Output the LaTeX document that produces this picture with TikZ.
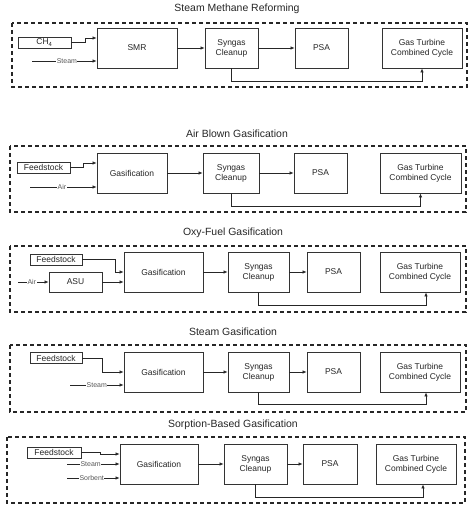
\documentclass[tikz,border=0pt]{standalone}
\usepackage{fontspec}
\setmainfont{Liberation Sans}
\usetikzlibrary{arrows.meta}
\tikzset{
  box/.style={draw=black!80, line width=0.8bp, fill=white, inner sep=1bp, align=center, font=\fontsize{8.5}{10}\selectfont, text=black!85},
  frame/.style={draw=black!85, line width=1.6bp, dash pattern=on 4bp off 3bp},
  arr/.style={draw=black!85, line width=0.7bp, -{Latex[length=4bp,width=3.5bp]}},
  lbl/.style={fill=white, inner sep=0.5bp, font=\fontsize{7}{8}\selectfont, text=black!65},
  ttl/.style={font=\fontsize{10.5}{12}\selectfont, text=black!85},
}
\begin{document}
\begin{tikzpicture}[x=1bp,y=-1bp]
\useasboundingbox (0,0) rectangle (474,511);
% ---------- Panel 1 ----------
\node[ttl] (t1) at (237,9) {Steam Methane Reforming};
\draw[frame] (12,23) rectangle (467,87);
\node[box, minimum width=53bp, minimum height=11bp] (ch4) at (44.5,42.5) {CH\textsubscript{4}};
\node[box, minimum width=80bp, minimum height=40bp] (smr) at (137,48) {SMR};
\node[box, minimum width=53bp, minimum height=40bp] (sc1) at (231.5,48) {Syngas\\Cleanup};
\node[box, minimum width=53bp, minimum height=40bp] (psa1) at (321.5,48) {PSA};
\node[box, minimum width=80bp, minimum height=40bp] (gt1) at (422,48) {Gas Turbine\\Combined Cycle};
\coordinate (st1) at (32,61);
\draw[arr] (ch4.east) -- ++(14,0) |- ([yshift=10bp]smr.west);
\draw[arr] (st1) -- (st1 -| smr.west) node[lbl, pos=0.54] {Steam};
\draw[arr] (smr.east) -- (sc1.west);
\draw[arr] (sc1.east) -- (psa1.west);
\draw[arr] (sc1.south) -- ++(0,13) -| (gt1.south);
% ---------- Panel 2 ----------
\node[ttl] (t2) at (237,134) {Air Blown Gasification};
\draw[frame] (10,146) rectangle (466,212);
\node[box, minimum width=53bp, minimum height=11bp] (fs2) at (43.5,167.5) {Feedstock};
\node[box, minimum width=70bp, minimum height=40bp] (ga2) at (132,173) {Gasification};
\node[box, minimum width=56bp, minimum height=40bp] (sc2) at (231,173) {Syngas\\Cleanup};
\node[box, minimum width=53bp, minimum height=40bp] (psa2) at (320.5,173) {PSA};
\node[box, minimum width=81bp, minimum height=40bp] (gt2) at (420.5,173) {Gas Turbine\\Combined Cycle};
\coordinate (air2) at (30,187);
\draw[arr] (fs2.east) -- ++(13,0) |- ([yshift=10bp]ga2.west);
\draw[arr] (air2) -- (air2 -| ga2.west) node[lbl, pos=0.48] {Air};
\draw[arr] (ga2.east) -- (sc2.west);
\draw[arr] (sc2.east) -- (psa2.west);
\draw[arr] (sc2.south) -- ++(0,13) -| (gt2.south);
% ---------- Panel 3 ----------
\node[ttl] (t3) at (233,233) {Oxy-Fuel Gasification};
\draw[frame] (10,246) rectangle (466,312);
\node[box, minimum width=52bp, minimum height=11bp] (fs3) at (56,259.5) {Feedstock};
\node[box, minimum width=53bp, minimum height=20bp] (asu) at (75.5,282) {ASU};
\node[box, minimum width=79bp, minimum height=40bp] (ga3) at (163.5,272) {Gasification};
\node[box, minimum width=61bp, minimum height=40bp] (sc3) at (258.5,272) {Syngas\\Cleanup};
\node[box, minimum width=53bp, minimum height=40bp] (psa3) at (333.5,272) {PSA};
\node[box, minimum width=80bp, minimum height=40bp] (gt3) at (420,272) {Gas Turbine\\Combined Cycle};
\coordinate (air3) at (18,282);
\draw[arr] (fs3.east) -- ++(33,0) |- (ga3.west);
\draw[arr] (asu.east) -- (asu.east -| ga3.west);
\draw[arr] (air3) -- (asu.west) node[lbl, pos=0.45] {Air};
\draw[arr] (ga3.east) -- (sc3.west);
\draw[arr] (sc3.east) -- (psa3.west);
\draw[arr] (sc3.south) -- ++(0,13) -| ([xshift=6bp]gt3.south);
% ---------- Panel 4 ----------
\node[ttl] (t4) at (233,332) {Steam Gasification};
\draw[frame] (10,345) rectangle (466,412);
\node[box, minimum width=52bp, minimum height=11bp] (fs4) at (56,358) {Feedstock};
\node[box, minimum width=79bp, minimum height=40bp] (ga4) at (163.5,372) {Gasification};
\node[box, minimum width=61bp, minimum height=40bp] (sc4) at (258.5,372) {Syngas\\Cleanup};
\node[box, minimum width=53bp, minimum height=40bp] (psa4) at (333.5,372) {PSA};
\node[box, minimum width=80bp, minimum height=40bp] (gt4) at (420,372) {Gas Turbine\\Combined Cycle};
\coordinate (st4) at (70,385);
\draw[arr] (fs4.east) -- ++(20,0) |- (ga4.west);
\draw[arr] (st4) -- (st4 -| ga4.west) node[lbl, pos=0.5] {Steam};
\draw[arr] (ga4.east) -- (sc4.west);
\draw[arr] (sc4.south) -- ++(0,12) -| ([xshift=6bp]gt4.south);
\draw[arr] (sc4.east) -- (psa4.west);
% ---------- Panel 5 ----------
\node[ttl] (t5) at (233,425) {Sorption-Based Gasification};
\draw[frame] (7,437) rectangle (465,503);
\node[box, minimum width=54bp, minimum height=11bp] (fs5) at (54,452.5) {Feedstock};
\node[box, minimum width=78bp, minimum height=40bp] (ga5) at (159,464) {Gasification};
\node[box, minimum width=63bp, minimum height=40bp] (sc5) at (255.5,464) {Syngas\\Cleanup};
\node[box, minimum width=54bp, minimum height=40bp] (psa5) at (330,464) {PSA};
\node[box, minimum width=80bp, minimum height=40bp] (gt5) at (416,464) {Gas Turbine\\Combined Cycle};
\coordinate (st5) at (67,464);
\coordinate (sb5) at (67,478);
\draw[arr] (fs5.east) -- ++(19,0) |- ([yshift=10bp]ga5.west);
\draw[arr] (st5) -- (st5 -| ga5.west) node[lbl, pos=0.45] {Steam};
\draw[arr] (sb5) -- (sb5 -| ga5.west) node[lbl, pos=0.47] {Sorbent};
\draw[arr] (ga5.east) -- (sc5.west);
\draw[arr] (sc5.east) -- (psa5.west);
\draw[arr] (sc5.south) -- ++(0,13) -| ([xshift=7bp]gt5.south);
\end{tikzpicture}
\end{document}
